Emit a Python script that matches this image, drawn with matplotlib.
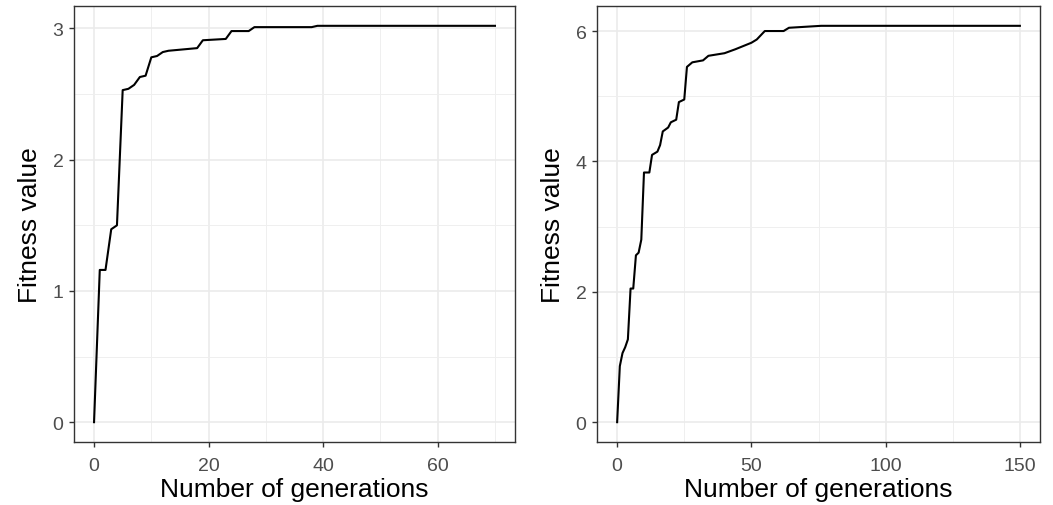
import matplotlib
matplotlib.use("Agg")
import matplotlib.pyplot as plt
import numpy as np

plt.rcParams['font.family'] = ['Liberation Sans', 'DejaVu Sans']

# Left panel data (breakpoints of best fitness per generation)
left_gen = [0, 1, 2, 3, 4, 5, 6, 7, 8, 9, 10, 11, 12, 13, 18, 19, 23, 24, 27, 28, 38, 39, 70]
left_fit = [0, 1.16, 1.16, 1.47, 1.50, 2.53, 2.54, 2.57, 2.63, 2.64, 2.78, 2.79, 2.82, 2.83,
            2.85, 2.91, 2.92, 2.98, 2.98, 3.01, 3.01, 3.02, 3.02]

# Right panel data
right_gen = [0, 1, 2, 3, 4, 5, 6, 7, 8, 9, 10, 12, 13, 15, 16, 17, 19, 20, 22, 23, 25, 26,
             28, 32, 34, 40, 44, 47, 50, 52, 55, 62, 64, 76, 150]
right_fit = [0, 0.86, 1.06, 1.15, 1.27, 2.05, 2.05, 2.56, 2.60, 2.80, 3.83, 3.83, 4.10, 4.15,
             4.25, 4.46, 4.52, 4.60, 4.64, 4.91, 4.95, 5.45, 5.52, 5.55, 5.62, 5.66, 5.72,
             5.77, 5.82, 5.87, 6.00, 6.00, 6.05, 6.08, 6.08]

left_xticks = [0, 20, 40, 60]
left_yticks = [0, 1, 2, 3]
right_xticks = [0, 50, 100, 150]
right_yticks = [0, 2, 4, 6]

xlabel = "Number of generations"
ylabel = "Fitness value"

W, H = 1053, 506
fig = plt.figure(figsize=(W / 100, H / 100), dpi=100)

def make_ax(rect, gens, fits, xt, yt):
    ax = fig.add_axes(rect)
    ax.plot(gens, fits, color='black', lw=1.5, solid_joinstyle='round')
    xmin, xmax = min(gens), max(gens)
    ymin, ymax = min(fits), max(fits)
    dx = (xmax - xmin) * 0.05
    dy = (ymax - ymin) * 0.05
    ax.set_xlim(xmin - dx, xmax + dx)
    ax.set_ylim(ymin - dy, ymax + dy)
    ax.set_xticks(xt)
    ax.set_yticks(yt)
    xminor = [(a + b) / 2 for a, b in zip(xt[:-1], xt[1:])]
    step = xt[1] - xt[0]
    if xt[-1] + step / 2 <= xmax + dx:
        xminor.append(xt[-1] + step / 2)
    yminor = [(a + b) / 2 for a, b in zip(yt[:-1], yt[1:])]
    ax.set_xticks(xminor, minor=True)
    ax.set_yticks(yminor, minor=True)
    ax.grid(True, which='major', color='#EBEBEB', lw=1.2, zorder=0)
    ax.grid(True, which='minor', color='#EFEFEF', lw=0.7, zorder=0)
    ax.set_axisbelow(True)
    ax.tick_params(which='minor', length=0)
    ax.tick_params(which='major', length=3.6, width=1.0, color='#333333',
                   labelcolor='#4D4D4D', labelsize=14)
    ax.tick_params(axis='x', which='major', pad=7)
    ax.tick_params(axis='y', which='major', pad=4)
    for s in ax.spines.values():
        s.set_color('#333333')
        s.set_linewidth(1.0)
    ax.set_xlabel(xlabel, fontsize=19, color='black', labelpad=2)
    ax.set_ylabel(ylabel, fontsize=19, color='black', labelpad=7.5)
    return ax

make_ax([74 / W, 1 - 443 / H, 441 / W, 436 / H], left_gen, left_fit, left_xticks, left_yticks)
make_ax([597 / W, 1 - 443 / H, 443 / W, 436 / H], right_gen, right_fit, right_xticks, right_yticks)

fig.savefig("out.png", dpi=100)
